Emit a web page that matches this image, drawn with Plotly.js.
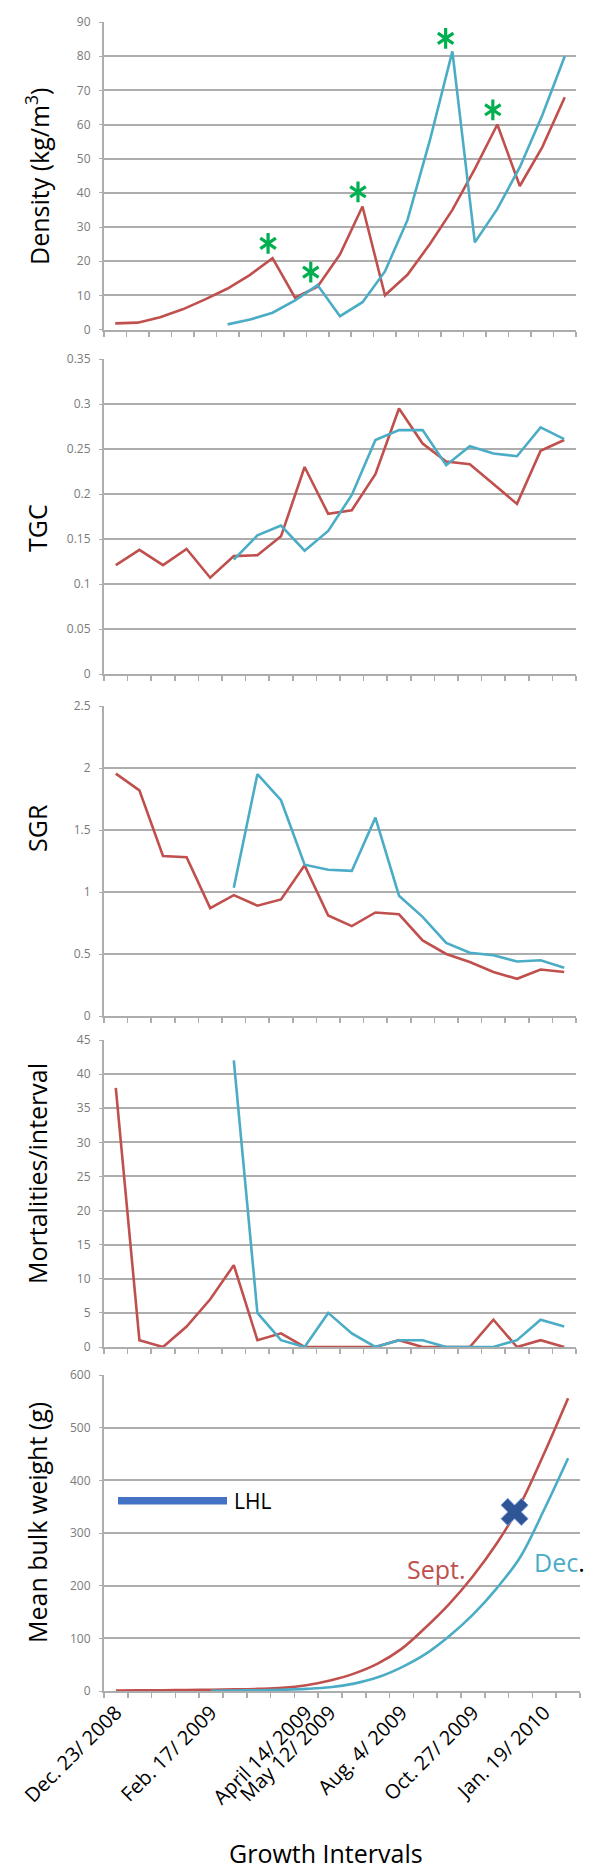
<!DOCTYPE html>
<html>
<head>
<meta charset="utf-8">
<script src="https://cdn.plot.ly/plotly-3.0.1.min.js"></script>
<style>html,body{margin:0;padding:0;background:#fff;}#chart{width:600px;height:1874px;}</style>
</head>
<body>
<div id="chart"></div>
<script>
// ---------- DATA ----------
// Density: 21 sampling dates (index 0..20)
const densSept = [1.8, 2.0, 3.6, 5.9, 8.8, 12, 16, 20.9, 9.3, 12.5, 22, 36, 10, 16, 25, 35, 47, 60, 42, 53.4, 68];
const densDec  = [null, null, null, null, null, 1.5, 2.9, 4.9, 8.5, 13, 3.9, 8, 17, 32, 55.4, 81.4, 25.5, 35.3, 47.5, 62.7, 80];
const densStarSeptIdx = [7, 11, 17];
const densStarDecIdx  = [9, 15];
// Growth intervals: 20 (index 0..19)
const tgcSept = [0.121, 0.138, 0.121, 0.139, 0.107, 0.131, 0.132, 0.153, 0.230, 0.178, 0.182, 0.222, 0.295, 0.256, 0.236, 0.233, 0.211, 0.189, 0.248, 0.260];
const tgcDec  = [null, null, null, null, null, 0.127, 0.154, 0.165, 0.137, 0.159, 0.199, 0.260, 0.271, 0.271, 0.232, 0.253, 0.245, 0.242, 0.274, 0.261];
const sgrSept = [1.955, 1.82, 1.29, 1.28, 0.87, 0.975, 0.89, 0.94, 1.215, 0.81, 0.725, 0.835, 0.82, 0.61, 0.50, 0.435, 0.355, 0.30, 0.375, 0.355];
const sgrDec  = [null, null, null, null, null, 1.035, 1.95, 1.74, 1.22, 1.18, 1.17, 1.60, 0.97, 0.80, 0.59, 0.51, 0.49, 0.44, 0.45, 0.39];
const mortSept = [38, 1, 0, 3, 7, 12, 1, 2, 0, 0, 0, 0, 1, 0, 0, 0, 4, 0, 1, 0];
const mortDec  = [null, null, null, null, null, 42, 5, 1, 0, 5, 2, 0, 1, 1, 0, 0, 0, 1, 4, 3];
const wtSept = [1, 1.2, 1.5, 2, 2.5, 3, 4, 6, 11, 20, 33, 52, 80, 120, 165, 218, 280, 355, 452, 556];
const wtDec  = [null, null, null, null, 0.5, 1, 1.5, 2.5, 4, 7, 14, 26, 45, 70, 104, 145, 195, 255, 345, 442];
const harvestIdx = [16.75];
const harvestWeight = [340];
const lhlWeight = 361;
// x tick labels (weight panel)
const dateLabelIdx = [0, 4, 8, 9, 12, 15, 18];
const dateLabels = ['Dec. 23/ 2008', 'Feb. 17/ 2009', 'April 14/ 2009', 'May 12/ 2009', 'Aug. 4/ 2009', 'Oct. 27/ 2009', 'Jan. 19/ 2010'];

// ---------- STYLE ----------
const RED = '#C0504D', BLUE = '#4BACC6', GRID = '#ADADAD', GREEN = '#00B050';
const FONT = 'Open Sans';
const idx = n => Array.from({length: n}, (_, i) => i);
const bounds = n => Array.from({length: n + 1}, (_, i) => i - 0.5);
const H = 1874;
const fy = px => 1 - px / H;
const fx = px => (px - 104) / 476;

function line(x, y, color, xa, ya, shape) {
  return {x: x, y: y, type: 'scatter', mode: 'lines', xaxis: xa, yaxis: ya,
    line: {color: color, width: 2.6, shape: shape || 'linear'}, connectgaps: false, hoverinfo: 'skip'};
}
const x21 = idx(21), x20 = idx(20);
const traces = [
  line(x21, densSept, RED, 'x', 'y'),
  line(x21, densDec, BLUE, 'x', 'y'),
  line(x20, tgcSept, RED, 'x2', 'y2'),
  line(x20, tgcDec, BLUE, 'x2', 'y2'),
  line(x20, sgrSept, RED, 'x3', 'y3'),
  line(x20, sgrDec, BLUE, 'x3', 'y3'),
  line(x20, mortSept, RED, 'x4', 'y4'),
  line(x20, mortDec, BLUE, 'x4', 'y4'),
  line(x20, wtSept, RED, 'x5', 'y5', 'spline'),
  line(x20, wtDec, BLUE, 'x5', 'y5', 'spline')
];
// asterisks above density peaks
const starX = densStarSeptIdx.map(i => i - 0.2).concat(densStarDecIdx.map(i => i - 0.3));
const starY = densStarSeptIdx.map(i => densSept[i] + 4.3).concat(densStarDecIdx.map(i => densDec[i] + 3.8));
['y-up-open', 'y-down-open'].forEach(sym => traces.push({
  x: starX, y: starY, type: 'scatter', mode: 'markers', xaxis: 'x', yaxis: 'y', hoverinfo: 'skip',
  marker: {symbol: sym, size: 13, color: GREEN, line: {color: GREEN, width: 3.2}}
}));
traces.push({x: harvestIdx, y: harvestWeight, type: 'scatter', mode: 'markers', xaxis: 'x5', yaxis: 'y5', hoverinfo: 'skip',
  marker: {symbol: 'x', size: 24, color: '#2F5597', line: {color: '#7FA0D8', width: 1}}});

function xa(n, anchor, domain) {
  return {anchor: anchor, domain: domain, range: [-0.5, n - 0.5], showgrid: false, zeroline: false,
    showline: true, linecolor: GRID, linewidth: 2, tickmode: 'array', tickvals: bounds(n),
    ticks: 'outside', ticklen: 5, tickwidth: 1.5, tickcolor: GRID, showticklabels: false, fixedrange: true};
}
function ya(anchor, domain, range, dtick) {
  return {anchor: anchor, domain: domain, range: range, dtick: dtick, tick0: 0, showgrid: true, gridcolor: GRID, gridwidth: 2,
    zeroline: false, showline: true, linecolor: GRID, linewidth: 2, ticks: 'outside', ticklen: 3, tickcolor: GRID,
    tickfont: {family: FONT, size: 12, color: '#7A7A7A'}, ticklabelstandoff: 6, fixedrange: true};
}
const dom4 = [0, 472 / 476];
const layout = {
  width: 600, height: H, margin: {l: 104, r: 20, t: 0, b: 0}, showlegend: false,
  paper_bgcolor: '#fff', plot_bgcolor: '#fff', font: {family: FONT},
  xaxis: xa(21, 'y', dom4),
  xaxis2: xa(20, 'y2', dom4),
  xaxis3: xa(20, 'y3', dom4),
  xaxis4: xa(20, 'y4', dom4),
  xaxis5: Object.assign(xa(20, 'y5', [0, 1]), {
    tickvals: dateLabelIdx, ticktext: dateLabels, showticklabels: true, ticks: '', ticklen: 0, tickangle: -45,
    tickfont: {family: FONT, size: 20, color: '#000'},
    minor: {tickmode: 'array', tickvals: bounds(20), ticks: 'outside', ticklen: 5, tickwidth: 1.5, tickcolor: GRID, showgrid: false}
  }),
  yaxis: ya('x', [fy(329.5), fy(22)], [0, 90], 10),
  yaxis2: ya('x2', [fy(674), fy(359)], [0, 0.35], 0.05),
  yaxis3: ya('x3', [fy(1016), fy(706)], [0, 2.5], 0.5),
  yaxis4: ya('x4', [fy(1347), fy(1040)], [0, 45], 5),
  yaxis5: ya('x5', [fy(1691), fy(1375)], [0, 600], 100),
  shapes: [{type: 'line', xref: 'paper', yref: 'y5', x0: fx(118), x1: fx(227), y0: lhlWeight, y1: lhlWeight,
    line: {color: '#4472C4', width: 7.5}}],
  annotations: [
    {text: 'Density (kg/m<sup>3</sup>)', x: fx(37), y: fy(177)},
    {text: 'TGC', x: fx(37), y: fy(528)},
    {text: 'SGR', x: fx(37), y: fy(828)},
    {text: 'Mortalities/interval', x: fx(37), y: fy(1174)},
    {text: 'Mean bulk weight (g)', x: fx(37), y: fy(1523)}
  ].map(a => Object.assign(a, {xref: 'paper', yref: 'paper', textangle: -90, showarrow: false,
    xanchor: 'center', yanchor: 'middle', font: {family: FONT, size: 25, color: '#000'}})).concat([
    {text: 'Growth Intervals', xref: 'paper', yref: 'paper', x: fx(326), y: fy(1853), showarrow: false,
      xanchor: 'center', yanchor: 'middle', font: {family: FONT, size: 25, color: '#000'}},
    {text: 'LHL', xref: 'paper', yref: 'paper', x: fx(232), y: fy(1501), showarrow: false,
      xanchor: 'left', yanchor: 'middle', font: {family: FONT, size: 21, color: '#000'}},
    {text: 'Sept.', xref: 'paper', yref: 'paper', x: fx(436), y: fy(1569), showarrow: false,
      xanchor: 'center', yanchor: 'middle', font: {family: FONT, size: 25, color: RED}},
    {text: 'Dec<span style="color:#000">.</span>', xref: 'paper', yref: 'paper', x: fx(559), y: fy(1562), showarrow: false,
      xanchor: 'center', yanchor: 'middle', font: {family: FONT, size: 25, color: BLUE}}
  ])
};
Plotly.newPlot('chart', traces, layout, {staticPlot: true, displayModeBar: false});
</script>
</body>
</html>
